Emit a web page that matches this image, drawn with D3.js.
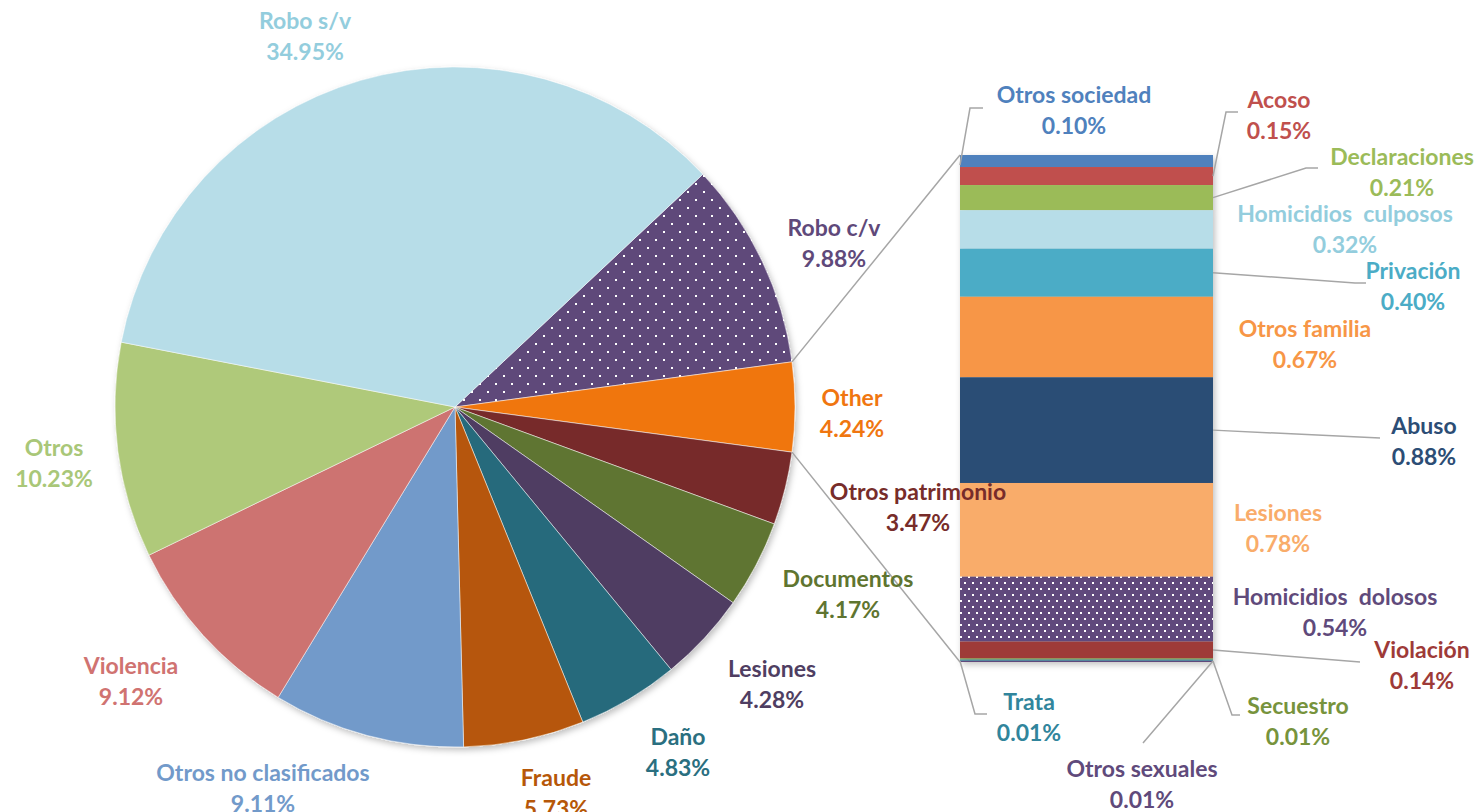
<!DOCTYPE html>
<html>
<head>
<meta charset="utf-8">
<script src="https://cdn.jsdelivr.net/npm/d3@7"></script>
<style>
  body { margin: 0; background: #fff; }
</style>
</head>
<body>
<div id="vis"></div>
<script>
/* data: pie slices, clockwise starting at Robo c/v */
let pieLabels = ["Robo c/v", "Other", "Otros patrimonio", "Documentos", "Lesiones", "Daño",
  "Fraude", "Otros no clasificados", "Violencia", "Otros", "Robo s/v"];
let pieValues = [9.88, 4.24, 3.47, 4.17, 4.28, 4.83, 5.73, 9.11, 9.12, 10.23, 34.95];

/* data: bar of "Other", top to bottom */
let barLabels = ["Otros sociedad", "Acoso", "Declaraciones", "Homicidios  culposos", "Privación",
  "Otros familia", "Abuso", "Lesiones", "Homicidios  dolosos", "Violación", "Secuestro", "Trata",
  "Otros sexuales"];
let barValues = [0.10, 0.15, 0.21, 0.32, 0.40, 0.67, 0.88, 0.78, 0.54, 0.14, 0.01, 0.01, 0.01];

/* styles */
let pieColors = ["dots1", "#f07610", "#772c2a", "#5f7530", "#4f3e62", "#276a7c",
  "#b65708", "#729aca", "#cd7371", "#afc97a", "#b7dde8"];
let pieText = ["#5f497a", "#f07610", "#772c2a", "#5f7530", "#4f3e62", "#2a6f80",
  "#b65708", "#729aca", "#d07371", "#a9c778", "#93cddd"];
let barColors = ["#4f81bd", "#c0504d", "#9bbb59", "#b7dde8", "#4bacc6", "#f79646", "#2c4d75",
  "#f9ac6a", "dots2", "#9e3a38", "#77933c", "#31859c", "#604a7b"];
let barText = ["#4f81bd", "#c0504d", "#9bbb59", "#93cddd", "#4bacc6", "#f79646", "#2c4d75",
  "#f9ac6a", "#604a7b", "#9e3a38", "#77933c", "#31859c", "#604a7b"];

/* label centres (first line) */
let pieLabelPos = [[834, 227], [852, 397], [918, 491], [848, 578], [772, 668], [678, 736],
  [556, 777], [263, 772], [131, 665], [54, 447], [305, 20]];
let barLabelPos = [[1074, 94], [1279, 99], [1402, 156], [1345, 213], [1413, 270], [1305, 328],
  [1424, 425], [1278, 512], [1335, 596], [1422, 649], [1298, 705], [1029, 701], [1142, 768]];
/* leader lines from bar (value: [side, segment, elbow points]) */
let leaders = [
  [0, 0, [[970, 108], [983, 108]]],
  [1, 1, [[1226, 112], [1238, 112]]],
  [1, 2, [[1306, 168], [1318, 168]]],
  [1, 4, [[1355, 283], [1366, 283]]],
  [1, 6, [[1380, 438]]],
  [1, 9, [[1360, 662]]],
  [1, 10, [[1232, 715], [1240, 715]]],
  [0, 11, [[975, 714], [987, 714]]],
  [1, 12, [[1143, 743]]],
];

let width = 1481, height = 812;
let cx = 455, cy = 407, radius = 340;
let barX = [960, 1213];
let barY = [155, 662];
let lineH = 31;
let font = "Lato, 'Open Sans', sans-serif";

let svg = d3.select("#vis").append("svg")
  .attr("width", width)
  .attr("height", height);

let defs = svg.append("defs");
/* dotted fill: checkerboard of small white squares */
let makeDots = (id, bg, w, h, s) => {
  let p = defs.append("pattern")
    .attr("id", id)
    .attr("patternUnits", "userSpaceOnUse")
    .attr("width", w).attr("height", h);
  p.append("rect").attr("width", w).attr("height", h).attr("fill", bg);
  p.append("rect").attr("x", 0).attr("y", 0).attr("width", s).attr("height", s).attr("fill", "#fff");
  p.append("rect").attr("x", w / 2).attr("y", h / 2).attr("width", s).attr("height", s).attr("fill", "#fff");
};
makeDots("dots1", "#5f497a", 16, 16, 2);
makeDots("dots2", "#604a7b", 8, 12, 2);
let fillOf = c => c.startsWith("dots") ? "url(#" + c + ")" : c;

let shadow = defs.append("filter").attr("id", "shadow")
  .attr("x", "-10%").attr("y", "-10%").attr("width", "120%").attr("height", "120%");
shadow.append("feDropShadow")
  .attr("dx", 2).attr("dy", 3).attr("stdDeviation", 3)
  .attr("flood-color", "#000").attr("flood-opacity", 0.25);

/* pie: rotate so "Other" is centred on the right */
let total = d3.sum(pieValues);
let toAng = v => v / total * 2 * Math.PI;
let start = Math.PI / 2 - toAng(pieValues[1]) / 2 - toAng(pieValues[0]);
let pie = d3.pie().sort(null).startAngle(start).endAngle(start + 2 * Math.PI);
let arcs = pie(pieValues);
let arc = d3.arc().innerRadius(0).outerRadius(radius);

let pieG = svg.append("g")
  .attr("transform", "translate(" + cx + "," + cy + ")")
  .attr("filter", "url(#shadow)");
pieG.selectAll("path")
  .data(arcs)
  .enter().append("path")
    .attr("d", arc)
    .attr("fill", (d, i) => fillOf(pieColors[i]))
    .attr("stroke", "#fff")
    .attr("stroke-width", 0.5);

/* bar */
let barY0 = d3.scaleLinear()
  .domain([0, d3.sum(barValues)])
  .range(barY);
let cum = d3.cumsum(barValues);
let segs = barValues.map((v, i) => ({ y0: cum[i] - v, y1: cum[i] }));

let barG = svg.append("g").attr("filter", "url(#shadow)");
barG.selectAll("rect")
  .data(segs)
  .enter().append("rect")
    .attr("x", barX[0])
    .attr("width", barX[1] - barX[0])
    .attr("y", d => barY0(d.y0))
    .attr("height", d => Math.max(1, barY0(d.y1) - barY0(d.y0)))
    .attr("fill", (d, i) => fillOf(barColors[i]));

/* series lines from pie to bar */
let a0 = arcs[1].startAngle, a1 = arcs[1].endAngle;
let pt = a => [cx + radius * Math.sin(a), cy - radius * Math.cos(a)];
let conn = d3.path();
conn.moveTo(...pt(a0)); conn.lineTo(barX[0], barY[0]);
conn.moveTo(...pt(a1)); conn.lineTo(barX[0], barY[1]);
svg.append("path")
  .attr("d", conn.toString())
  .attr("fill", "none")
  .attr("stroke", "#a6a6a6")
  .attr("stroke-width", 1.5);

/* leader lines for bar labels */
let lead = d3.path();
leaders.forEach(([side, i, pts]) => {
  let y = (barY0(segs[i].y0) + barY0(segs[i].y1)) / 2;
  if (i >= 10) y = barY[1] - 1;
  if (i === 0) y = barY0(segs[i].y1) - 2;
  lead.moveTo(barX[side], y);
  pts.forEach(p => lead.lineTo(p[0], p[1]));
});
svg.append("path")
  .attr("d", lead.toString())
  .attr("fill", "none")
  .attr("stroke", "#a6a6a6")
  .attr("stroke-width", 1.5);

/* labels */
let fmt = v => d3.format(".2f")(v) + "%";
let drawLabel = (name, value, pos, color) => {
  let t = svg.append("text")
    .attr("font-family", font)
    .attr("font-weight", 700)
    .attr("font-size", 23)
    .attr("fill", color)
    .attr("text-anchor", "middle")
    .attr("dominant-baseline", "central")
    .attr("xml:space", "preserve")
    .style("white-space", "pre");
  t.append("tspan").attr("x", pos[0]).attr("y", pos[1]).text(name);
  t.append("tspan").attr("x", pos[0]).attr("y", pos[1] + lineH).text(fmt(value));
};
pieLabels.forEach((n, i) => drawLabel(n, pieValues[i], pieLabelPos[i], pieText[i]));
barLabels.forEach((n, i) => drawLabel(n, barValues[i], barLabelPos[i], barText[i]));
</script>
</body>
</html>
